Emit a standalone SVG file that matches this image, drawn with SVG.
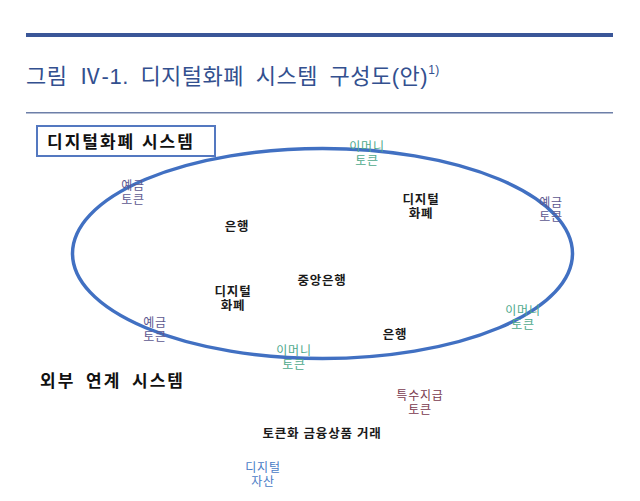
<svg xmlns="http://www.w3.org/2000/svg" width="640" height="501" viewBox="0 0 640 501">
<style>
text{font-family:"Liberation Sans","Noto Sans CJK KR",sans-serif;}
.lb{font-size:12px;text-anchor:middle;letter-spacing:0.8px;}
.k{fill:#1a1a1a;font-weight:bold;font-size:12.5px;}
.em{fill:#4ea98c;}
.dp{fill:#5d5890;}
.sp{fill:#7a3a4e;}
.da{fill:#4a7cc6;}
.hd{font-size:17px;font-weight:bold;fill:#111;letter-spacing:2px;}
</style>
<rect width="640" height="501" fill="#fff"/>
<g id="header">
<rect x="26" y="33" width="587" height="4" fill="#3a5698"/>
<text x="26" y="84" font-size="22" fill="#33508f" word-spacing="5" letter-spacing="0.5">그림 Ⅳ-1. 디지털화폐 시스템 구성도(안)<tspan font-size="12" dy="-10">1)</tspan></text>
<rect x="26" y="112" width="587" height="1.5" fill="#6d7fa8"/>
</g>
<g id="system-box">
<rect x="37" y="126" width="178" height="30" fill="#fff" stroke="#5478c0" stroke-width="2"/>
<text x="47" y="148" class="hd">디지털화폐 시스템</text>
</g>
<g id="connectors">
<ellipse cx="322.5" cy="253.5" rx="250" ry="105" fill="none" stroke="#4170c2" stroke-width="3.5"/>
</g>
<g id="emoney1"><text class="lb em" x="367" y="151">이머니<tspan x="367" dy="13.5">토큰</tspan></text></g>
<g id="deposit1"><text class="lb dp" x="133" y="190">예금<tspan x="133" dy="13.5">토큰</tspan></text></g>
<g id="dc1"><text class="lb k" x="421" y="204">디지털<tspan x="421" dy="13.5">화폐</tspan></text></g>
<g id="deposit2"><text class="lb dp" x="551" y="207">예금<tspan x="551" dy="13.5">토큰</tspan></text></g>
<g id="bank1"><text class="lb k" x="237" y="231">은행</text></g>
<g id="central"><text class="lb k" x="322" y="285">중앙은행</text></g>
<g id="dc2"><text class="lb k" x="233" y="296">디지털<tspan x="233" dy="13.5">화폐</tspan></text></g>
<g id="deposit3"><text class="lb dp" x="155" y="327">예금<tspan x="155" dy="13.5">토큰</tspan></text></g>
<g id="emoney2"><text class="lb em" x="523" y="315">이머니<tspan x="523" dy="13.5">토큰</tspan></text></g>
<g id="bank2"><text class="lb k" x="395" y="339">은행</text></g>
<g id="emoney3"><text class="lb em" x="294" y="355">이머니<tspan x="294" dy="13.5">토큰</tspan></text></g>
<g id="external"><text x="40" y="387" class="hd" letter-spacing="3" word-spacing="4">외부 연계 시스템</text></g>
<g id="special"><text class="lb sp" x="420" y="400">특수지급<tspan x="420" dy="13.5">토큰</tspan></text></g>
<g id="tokenized"><text class="lb k" x="322" y="438" letter-spacing="1">토큰화 금융상품 거래</text></g>
<g id="digital-asset"><text class="lb da" x="263" y="472">디지털<tspan x="263" dy="13.5">자산</tspan></text></g>
</svg>
